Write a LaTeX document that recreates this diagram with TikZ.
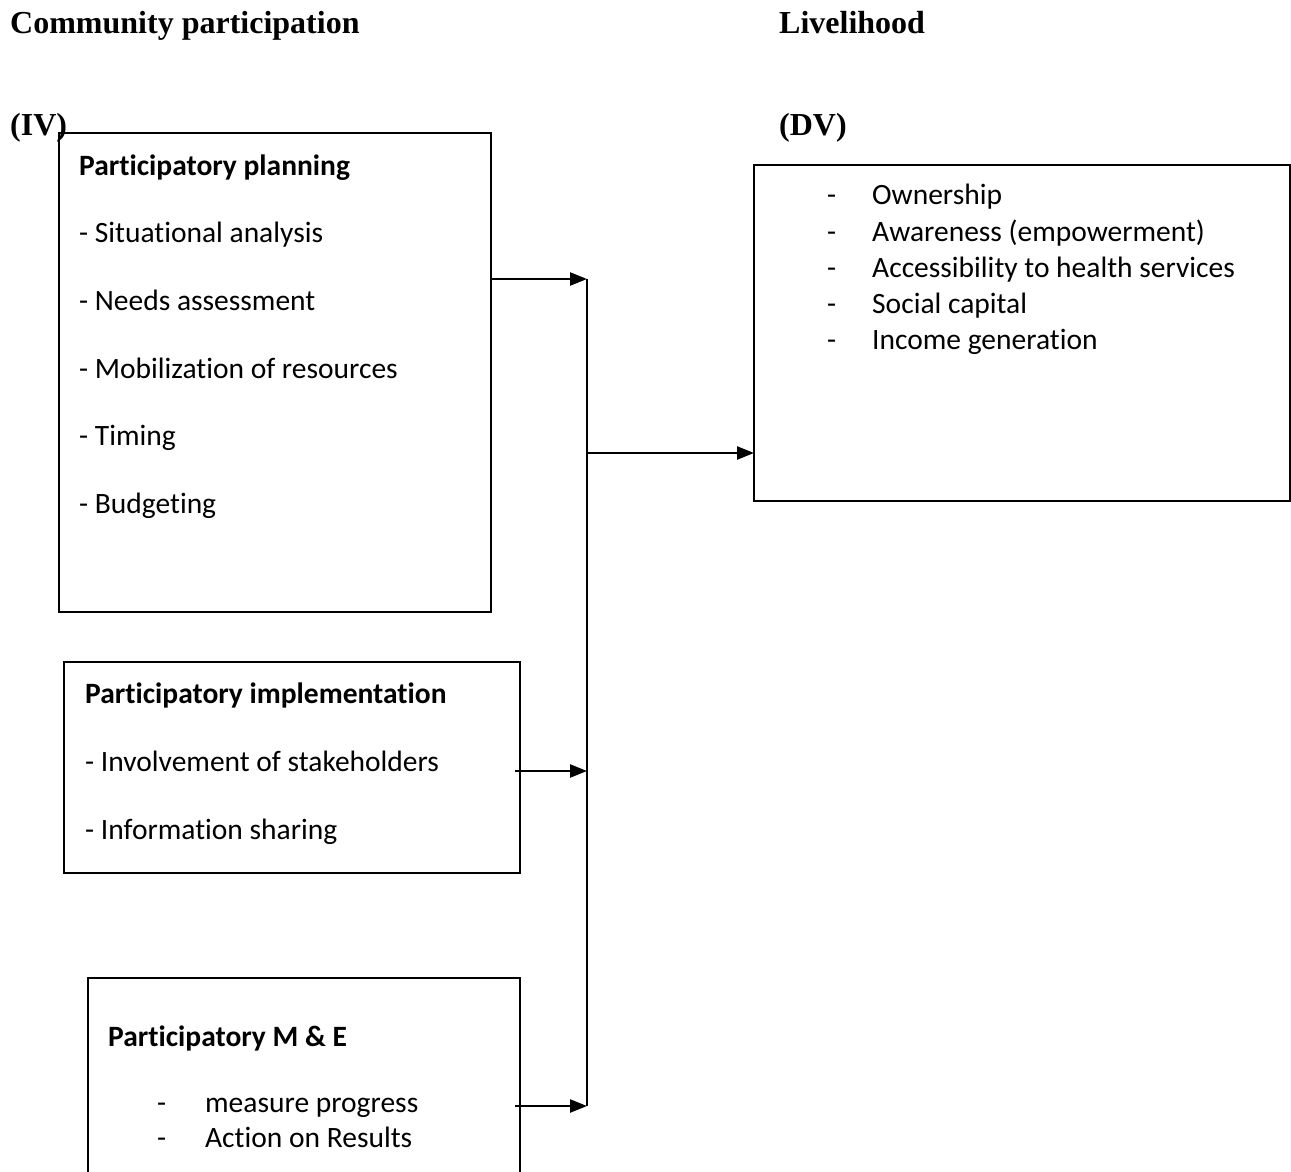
\documentclass[tikz,border=0pt]{standalone}
\usepackage{fontspec}
\setmainfont[Ligatures=NoCommon]{Carlito}
\newfontfamily\titlefont{Liberation Serif}
\usetikzlibrary{arrows.meta}
\begin{document}
\begin{tikzpicture}[x=1pt,y=-1pt,
  boxline/.style={draw=black, line width=2.3pt},
  ttl/.style={anchor=base west, inner sep=0pt, font=\titlefont\fontsize{32}{36}\selectfont\bfseries},
  itm/.style={anchor=base west, inner sep=0pt, font=\fontsize{29.5}{34}\selectfont},
  head/.style={anchor=base west, inner sep=0pt, font=\fontsize{29.5}{34}\selectfont\bfseries},
  conn/.style={line width=2.4pt, -{Triangle[length=17pt,width=13pt]}},
  plain/.style={line width=2.4pt}]
\useasboundingbox (0,0) rectangle (1291,1172);
\fill[white] (0,0) rectangle (1291,1172);
\clip (0,0) rectangle (1291,1172);
% titles
\node[ttl] (t1) at (10,34) {Community participation};
\node[ttl] (t2) at (779,34) {Livelihood};
\node[ttl] (t3) at (10,135) {(IV)};
\node[ttl] (t4) at (779,135) {(DV)};
% boxes
\draw[boxline] (59,133) rectangle (491,612);
\draw[boxline] (64,662) rectangle (520,873);
\draw[boxline] (88,978) rectangle (520,1220);
\draw[boxline] (754,165) rectangle (1290,501);
% box 1 text
\node[head] (p1h) at (79,175) {Participatory planning};
\node[itm] (p1a) at (79,242) {- Situational analysis};
\node[itm] (p1b) at (79,310) {- Needs assessment};
\node[itm] (p1c) at (79,378) {- Mobilization of resources};
\node[itm] (p1d) at (79,445) {- Timing};
\node[itm] (p1e) at (79,513) {- Budgeting};
% box 2 text
\node[head] (p2h) at (85,703) {Participatory implementation};
\node[itm] (p2a) at (85,771) {- Involvement of stakeholders};
\node[itm] (p2b) at (85,839) {- Information sharing};
% box 3 text
\node[head] (p3h) at (108,1046) {Participatory M \& E};
\node[itm] (p3a) at (157,1112) {\makebox[48pt][l]{-}measure progress};
\node[itm] (p3b) at (157,1147) {\makebox[48pt][l]{-}Action on Results};
% DV text
\node[itm] (o1) at (827,204) {\makebox[45pt][l]{-}Ownership};
\node[itm] (o2) at (827,241) {\makebox[45pt][l]{-}Awareness (empowerment)};
\node[itm] (o3) at (827,277) {\makebox[45pt][l]{-}Accessibility to health services};
\node[itm] (o4) at (827,313) {\makebox[45pt][l]{-}Social capital};
\node[itm] (o5) at (827,349) {\makebox[45pt][l]{-}Income generation};
% connectors
\coordinate (s1) at (491,279);
\coordinate (j1) at (587,279);
\coordinate (s2) at (515,771);
\coordinate (j2) at (587,771);
\coordinate (s3) at (515,1106);
\coordinate (j3) at (587,1106);
\coordinate (jm) at (587,453);
\coordinate (dv) at (754,453);
\draw[plain] (j1) -- (j3);
\draw[conn] (s1) -- (j1);
\draw[conn] (s2) -- (j2);
\draw[conn] (s3) -- (j3);
\draw[conn] (jm) -- (dv);
\end{tikzpicture}
\end{document}
